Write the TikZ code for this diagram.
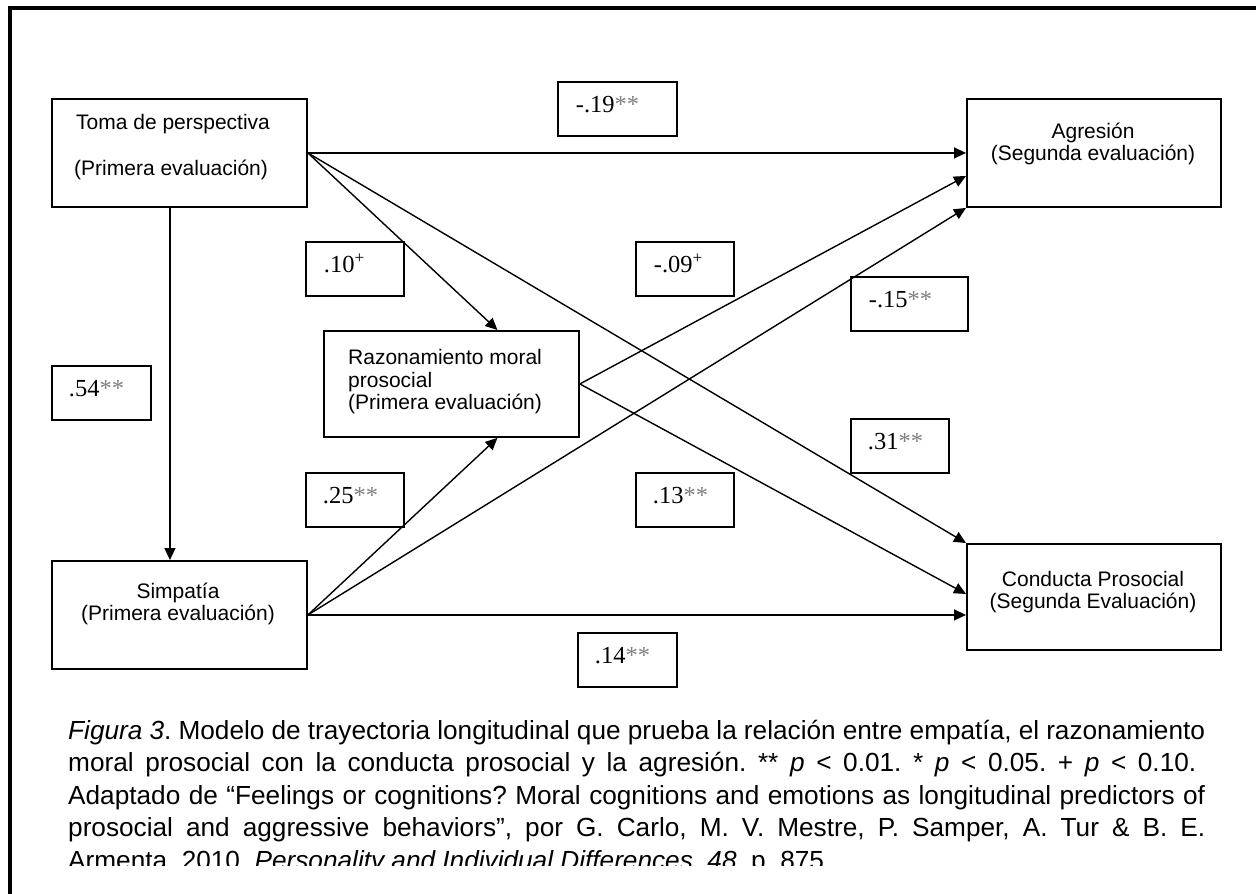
\documentclass[tikz,border=0pt]{standalone}
\usepackage{fontspec}
\setmainfont{Liberation Serif}
\newfontfamily\arialf{Liberation Sans}
\usetikzlibrary{arrows.meta,calc}
\newcommand\lblstars{\textcolor{black!50}{**}}
\newcommand\lblplus{\textsuperscript{+}}
\frenchspacing
\begin{document}
\begin{tikzpicture}[x=1pt,y=-1pt,
  box/.style={draw, line width=1.9pt, anchor=north west, inner sep=0pt},
  boxtxt/.style={inner sep=0pt, font=\arialf\fontsize{21}{23}\selectfont},
  lab/.style={draw, line width=1.9pt, anchor=north west, inner sep=0pt,
    minimum height=54pt, text height=31pt, text depth=23pt, align=left,
    font=\fontsize{24.5}{28}\selectfont},
  conn/.style={line width=1.4pt},
  arr/.style={conn, -{Triangle[length=12pt,width=11pt]}},
  captxt/.style={anchor=base west, inner sep=0pt, font=\arialf\fontsize{26.2}{32.5}\selectfont}
]
\useasboundingbox (0,0) rectangle (1256,894);
\fill[white] (0,0) rectangle (1256,894);
% frame
\draw[line width=3.3pt] (10,900) -- (10,8) -- (1260,8);

% main boxes
\node[box, minimum width=255pt, minimum height=108pt] (toma) at (51,98) {};
\node[box, minimum width=254pt, minimum height=108pt] (agr) at (966,98) {};
\node[box, minimum width=255pt, minimum height=106pt] (razon) at (323,330) {};
\node[box, minimum width=255pt, minimum height=108pt] (simp) at (51,560) {};
\node[box, minimum width=254pt, minimum height=106pt] (cond) at (966,543) {};

% box texts
\node[boxtxt, anchor=base west] (tomaA) at (76,129) {Toma de perspectiva};
\node[boxtxt, anchor=base west] (tomaB) at (74,175) {(Primera evaluación)};
\node[boxtxt, anchor=base] (agrA) at (1093,138) {Agresión};
\node[boxtxt, anchor=base] (agrB) at (1093,160) {(Segunda evaluación)};
\node[boxtxt, anchor=base west] (razA) at (348,364) {Razonamiento moral};
\node[boxtxt, anchor=base west] (razB) at (348,387) {prosocial};
\node[boxtxt, anchor=base west] (razC) at (348,409) {(Primera evaluación)};
\node[boxtxt, anchor=base] (simpA) at (178,598) {Simpatía};
\node[boxtxt, anchor=base] (simpB) at (178,620) {(Primera evaluación)};
\node[boxtxt, anchor=base] (condA) at (1093,586) {Conducta Prosocial};
\node[boxtxt, anchor=base] (condB) at (1093,608) {(Segunda Evaluación)};

% connectors
\draw[arr] (toma.east) -- (agr.west);
\draw[arr] (toma.east) -- ($(razon.north)+(46,0)$);
\draw[arr] (toma.east) -- (cond.north west);
\draw[arr] ($(toma.south)+(-9.5,0)$) -- ($(simp.north)+(-9.5,0)$);
\draw[arr] (razon.east) -- ($(agr.west)+(0,23)$);
\draw[arr] (razon.east) -- ($(cond.west)+(0,-3)$);
\draw[arr] (simp.east) -- ($(razon.south)+(46,0)$);
\draw[arr] (simp.east) -- (agr.south west);
\draw[arr] (simp.east) -- (simp.east -| cond.west);

% coefficient labels
\node[lab, text width=119pt] (l19) at (557,81) {\hspace*{18pt}-.19\lblstars};
\node[lab, text width=98pt] (l10) at (305,241) {\hspace*{18pt}.10\lblplus};
\node[lab, text width=98pt] (l09) at (635,241) {\hspace*{18pt}-.09\lblplus};
\node[lab, text width=117pt] (l15) at (850,276) {\hspace*{18pt}-.15\lblstars};
\node[lab, text width=99pt] (l54) at (51,365) {\hspace*{17pt}.54\lblstars};
\node[lab, text width=98pt] (l25) at (305,472) {\hspace*{17pt}.25\lblstars};
\node[lab, text width=98pt] (l13) at (635,472) {\hspace*{17pt}.13\lblstars};
\node[lab, text width=98pt] (l31) at (850,418) {\hspace*{17pt}.31\lblstars};
\node[lab, text width=99pt] (l14) at (577,632) {\hspace*{17pt}.14\lblstars};

% caption
\begin{scope}
\clip (0,0) rectangle (1256,865);
\node[captxt] (c1) at (68,739) {\makebox[1137pt][s]{\textit{Figura 3}. Modelo de trayectoria longitudinal que prueba la relación entre empatía, el razonamiento}};
\node[captxt] (c2) at (68,771.5) {\makebox[1128pt][s]{moral prosocial con la conducta prosocial y la agresión. ** \textit{p} < 0.01. * \textit{p} < 0.05. + \textit{p} < 0.10.}};
\node[captxt] (c3) at (68,804) {\makebox[1137pt][s]{Adaptado de “Feelings or cognitions? Moral cognitions and emotions as longitudinal predictors of}};
\node[captxt] (c4) at (68,836.5) {\makebox[1137pt][s]{prosocial and aggressive behaviors”, por G. Carlo, M. V. Mestre, P. Samper, A. Tur \& B. E.}};
\node[captxt] (c5) at (68,869) {Armenta, 2010, \textit{Personality and Individual Differences, 48}, p. 875.};
\end{scope}
\end{tikzpicture}
\end{document}
